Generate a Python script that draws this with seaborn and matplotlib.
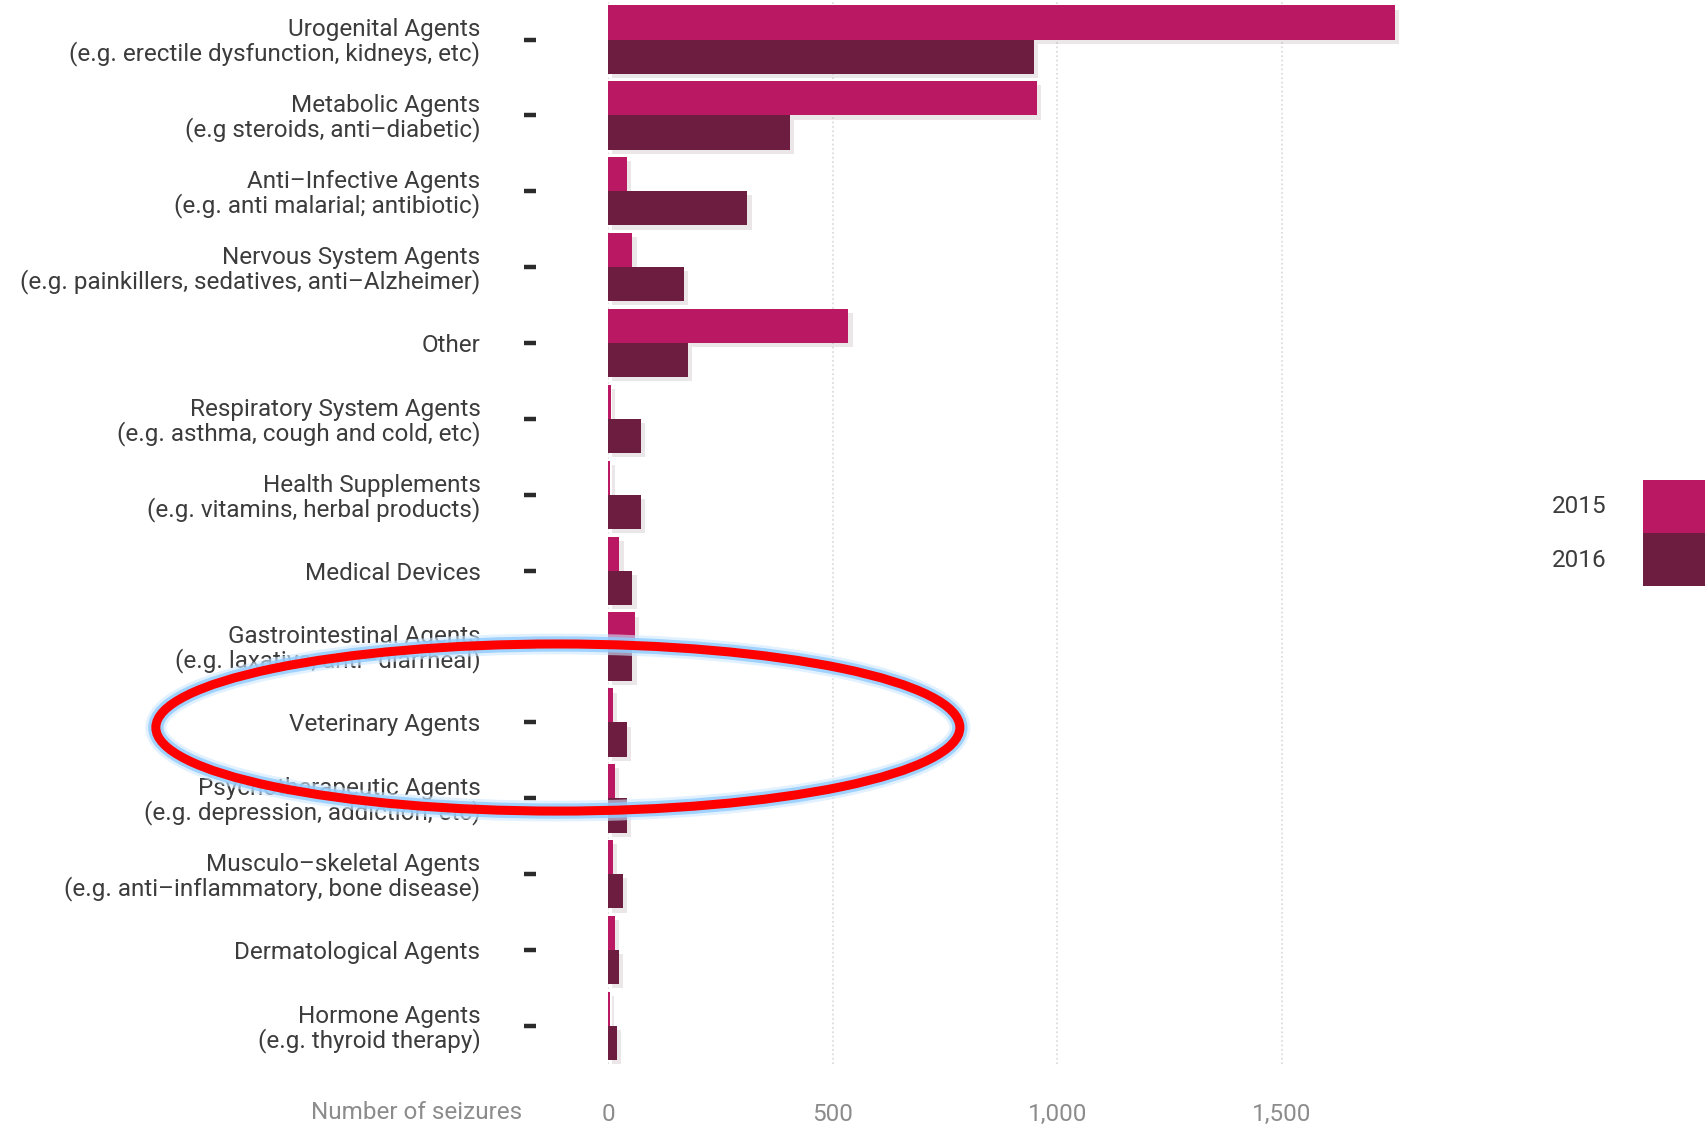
import matplotlib
matplotlib.use("Agg")
import matplotlib.pyplot as plt
import matplotlib.patheffects as pe
from matplotlib.patches import Ellipse, Patch
from matplotlib.ticker import FuncFormatter
import pandas as pd
import seaborn as sns

# Data
categories = [
    "Urogenital Agents\n(e.g. erectile dysfunction, kidneys, etc)",
    "Metabolic Agents\n(e.g steroids, anti–diabetic)",
    "Anti–Infective Agents\n(e.g. anti malarial; antibiotic)",
    "Nervous System Agents\n(e.g. painkillers, sedatives, anti–Alzheimer)",
    "Other",
    "Respiratory System Agents\n(e.g. asthma, cough and cold, etc)",
    "Health Supplements\n(e.g. vitamins, herbal products)",
    "Medical Devices",
    "Gastrointestinal Agents\n(e.g. laxative, anti–diarrheal)",
    "Veterinary Agents",
    "Psychotherapeutic Agents\n(e.g. depression, addiction, etc)",
    "Musculo–skeletal Agents\n(e.g. anti–inflammatory, bone disease)",
    "Dermatological Agents",
    "Hormone Agents\n(e.g. thyroid therapy)",
]
seizures_2015 = [1752, 955, 41, 54, 535, 6, 5, 25, 59, 10, 15, 10, 15, 3]
seizures_2016 = [948, 405, 310, 169, 177, 72, 72, 54, 54, 41, 41, 32, 24, 19]
years = ["2015", "2016"]
colors = ["#BA1862", "#6D1E40"]

df = pd.DataFrame({
    "category": categories * 2,
    "year": [years[0]] * len(categories) + [years[1]] * len(categories),
    "seizures": seizures_2015 + seizures_2016,
})

sns.set_style("white")
plt.rcParams["font.family"] = ["Roboto", "DejaVu Sans"]
fs = 17.5

fig = plt.figure(figsize=(17.06, 11.29), dpi=100)
ax = fig.add_axes([0.3565, 0.0576, 0.50, 0.941])

sns.barplot(
    data=df, y="category", x="seizures", hue="year",
    palette=colors, width=0.9, gap=0, orient="h",
    legend=False, ax=ax, saturation=1, linewidth=0,
)

# faint drop shadow behind the bars
for bar in ax.patches:
    bar.set_path_effects([
        pe.SimplePatchShadow(offset=(3, -3), shadow_rgbFace="#b0a0a8", alpha=0.25),
        pe.Normal(),
    ])

ax.set_xlim(0, 1900)
ax.set_xticks([0, 500, 1000, 1500])
ax.xaxis.set_major_formatter(FuncFormatter(lambda v, _: f"{int(v):,}"))
ax.grid(axis="x", linestyle=":", color="#d8d8d8", linewidth=1.2)
ax.grid(axis="y", visible=False)
ax.set_axisbelow(True)

for s in ["top", "right", "bottom"]:
    ax.spines[s].set_visible(False)
ax.spines["left"].set_position(("outward", 52))
ax.spines["left"].set_visible(False)

ax.tick_params(axis="y", length=9, width=3.2, color="#2b2b2b", direction="out",
               pad=31, labelsize=fs, labelcolor="#3c3c3c", left=True)
ax.tick_params(axis="x", length=0, pad=28, labelsize=fs, labelcolor="#8c8c8c")
for lab in ax.get_yticklabels():
    lab.set_linespacing(1.0)

ax.set_ylabel("")
ax.set_xlabel("Number of seizures", fontsize=fs, color="#8c8c8c")
ax.xaxis.set_label_coords(-0.101, -0.046)
ax.xaxis.label.set(ha="right", va="center")

handles = [Patch(facecolor=c, edgecolor="none") for c in colors]
fig.legend(handles, years, loc="center right", bbox_to_anchor=(1.0, 0.528),
           frameon=False, markerfirst=False, fontsize=fs, labelcolor="#3c3c3c",
           handlelength=2.6, handleheight=2.98, labelspacing=0,
           handletextpad=1.5, borderpad=0, borderaxespad=0)

# red highlight ring around the veterinary/psychotherapeutic rows
ring = Ellipse((0.327, 0.3556), 0.4713, 0.148, transform=fig.transFigure,
               fill=False, edgecolor="#ff0000", linewidth=6.5, zorder=10,
               path_effects=[pe.Stroke(linewidth=15, foreground="#cfe9ff", alpha=0.6),
                             pe.Stroke(linewidth=11, foreground="#8fcbff", alpha=0.8),
                             pe.Normal()])
fig.add_artist(ring)

fig.savefig("out.png", dpi=100)
